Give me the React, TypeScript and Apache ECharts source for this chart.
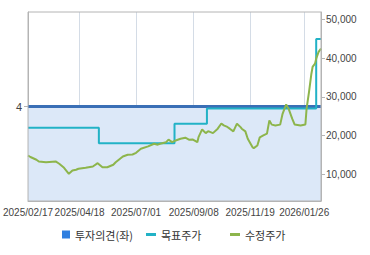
import React, { useEffect, useRef } from "react";
import * as echarts from "echarts";

// x axis: trading-day index with date labels
const xLabelIdx = [0, 43, 90, 138, 185, 230];
const xLabels = ["2025/02/17", "2025/04/18", "2025/07/01", "2025/09/08", "2025/11/19", "2026/01/26"];
const xMax = 244;

// left axis (투자의견)
const leftTicks = [4];
const opinionIdx = [0, 244];
const opinionVals = [4, 4];

// right axis (price)
const rightTicks = [10000, 20000, 30000, 40000, 50000];

// 목표주가 (step changes)
const targetIdx = [0, 59, 122, 149, 240, 244];
const targetVals = [22000, 18000, 23000, 27000, 45000, 45000];

// 수정주가
const priceIdx = [
  0, 2, 7, 9, 15, 23, 26, 30, 34, 37, 40, 42, 48, 54, 58, 62, 66, 71, 73, 79,
  83, 87, 90, 94, 100, 105, 108, 110, 115, 117, 120, 123, 127, 131, 134, 137, 141, 142, 145, 148,
  150, 154, 158, 161, 163, 166, 168, 171, 174, 177, 178, 181, 183, 187, 188, 191, 193, 196, 199, 201,
  203, 206, 210, 212, 215, 217, 220, 222, 227, 231, 232, 234, 236, 237, 239, 240, 242, 244,
];
const priceVals = [
  14800, 14400, 13700, 13250, 13050, 13250, 12650, 11600, 10050, 10900, 11100, 11350, 11600, 11950, 12800, 11750, 11750, 12400, 13050, 14550,
  15000, 15050, 15500, 16550, 17150, 17850, 17600, 17850, 18250, 18900, 18250, 18700, 19150, 19400, 18900, 18950, 18250, 19550, 21550, 20600,
  21100, 20600, 21750, 23100, 22600, 22200, 21750, 21050, 23050, 22150, 21750, 21050, 19150, 16950, 16700, 17400, 19500, 20000, 20450, 23900,
  22800, 22600, 22800, 25600, 28050, 26950, 24350, 22850, 22600, 22850, 26950, 31250, 36000, 37750, 38600, 39900, 41650, 42500,
];

const zip = (a: number[], b: number[]) => a.map((v, i) => [v, b[i]]);

const axisFont = "'Liberation Sans', Arial, sans-serif";
const korFont = "'Noto Sans CJK KR', sans-serif";
const borderColor = "#b4b4b4";

export default function App() {
  const ref = useRef<HTMLDivElement>(null);
  useEffect(() => {
    document.body.style.margin = "0";
    const chart = echarts.init(ref.current!, null, { renderer: "svg" });
    const legendBase = {
      orient: "horizontal",
      top: 229,
      padding: 0,
      textStyle: { fontSize: 11, color: "#333", fontFamily: korFont },
    };
    chart.setOption({
      animation: false,
      backgroundColor: "#fff",
      grid: {
        left: 27,
        top: 12,
        width: 294,
        height: 189,
        show: true,
        borderColor: borderColor,
        borderWidth: 1,
        backgroundColor: "transparent",
        z: 10,
      },
      legend: [
        {
          ...legendBase,
          left: 62,
          itemWidth: 8,
          itemHeight: 8,
          data: [{ name: "투자의견(좌)", icon: "rect", itemStyle: { color: "#2f7fe0" } }],
        },
        {
          ...legendBase,
          left: 146,
          itemWidth: 10,
          itemHeight: 3,
          data: [{ name: "목표주가", icon: "rect", itemStyle: { color: "#22b2c6" } }],
        },
        {
          ...legendBase,
          left: 230,
          itemWidth: 10,
          itemHeight: 3,
          data: [{ name: "수정주가", icon: "rect", itemStyle: { color: "#8db54c" } }],
        },
      ],
      xAxis: {
        type: "value",
        min: 0,
        max: xMax,
        axisLine: { show: true, lineStyle: { color: borderColor } },
        axisTick: { show: false, customValues: xLabelIdx },
        splitLine: { show: true, lineStyle: { color: "#d4dce6", width: 1 } },
        axisLabel: {
          customValues: xLabelIdx,
          showMinLabel: true,
          showMaxLabel: true,
          hideOverlap: false,
          margin: 6,
          fontSize: 10,
          color: "#444",
          fontFamily: axisFont,
          formatter: (v: number) => {
            const i = xLabelIdx.indexOf(v);
            return i >= 0 ? xLabels[i] : "";
          },
        },
      },
      yAxis: [
        {
          type: "value",
          position: "left",
          min: 0,
          max: 8,
          axisLine: { show: true, lineStyle: { color: borderColor } },
          axisTick: { show: true, length: 4, customValues: leftTicks, lineStyle: { color: borderColor } },
          splitLine: { show: false },
          axisLabel: { customValues: leftTicks, margin: 6, fontSize: 11, color: "#444", fontFamily: axisFont },
        },
        {
          type: "value",
          position: "right",
          min: 3000,
          max: 52000,
          axisLine: { show: true, lineStyle: { color: borderColor } },
          axisTick: { show: true, length: 4, customValues: rightTicks, lineStyle: { color: borderColor } },
          splitLine: { show: false },
          axisLabel: {
            customValues: rightTicks,
            showMinLabel: true,
            showMaxLabel: true,
            margin: 5,
            fontSize: 10,
            color: "#444",
            fontFamily: axisFont,
            formatter: (v: number) => v.toLocaleString("en-US"),
          },
        },
      ],
      series: [
        {
          name: "투자의견(좌)",
          type: "line",
          yAxisIndex: 0,
          data: zip(opinionIdx, opinionVals),
          symbol: "none",
          lineStyle: { color: "#3a6fb6", width: 3 },
          itemStyle: { color: "#2f7fe0" },
          areaStyle: { color: "#dce8f8", opacity: 1 },
          z: 1,
        },
        {
          name: "목표주가",
          type: "line",
          yAxisIndex: 1,
          step: "end",
          data: zip(targetIdx, targetVals),
          symbol: "none",
          lineStyle: { color: "#22b2c6", width: 2 },
          itemStyle: { color: "#22b2c6" },
          z: 3,
        },
        {
          name: "수정주가",
          type: "line",
          yAxisIndex: 1,
          data: zip(priceIdx, priceVals),
          symbol: "none",
          lineStyle: { color: "#8db54c", width: 2 },
          itemStyle: { color: "#8db54c" },
          z: 4,
        },
      ],
    });
    return () => chart.dispose();
  }, []);
  return (
    <div
      ref={ref}
      style={{ position: "absolute", left: 0, top: 0, width: 370, height: 255 }}
    />
  );
}
